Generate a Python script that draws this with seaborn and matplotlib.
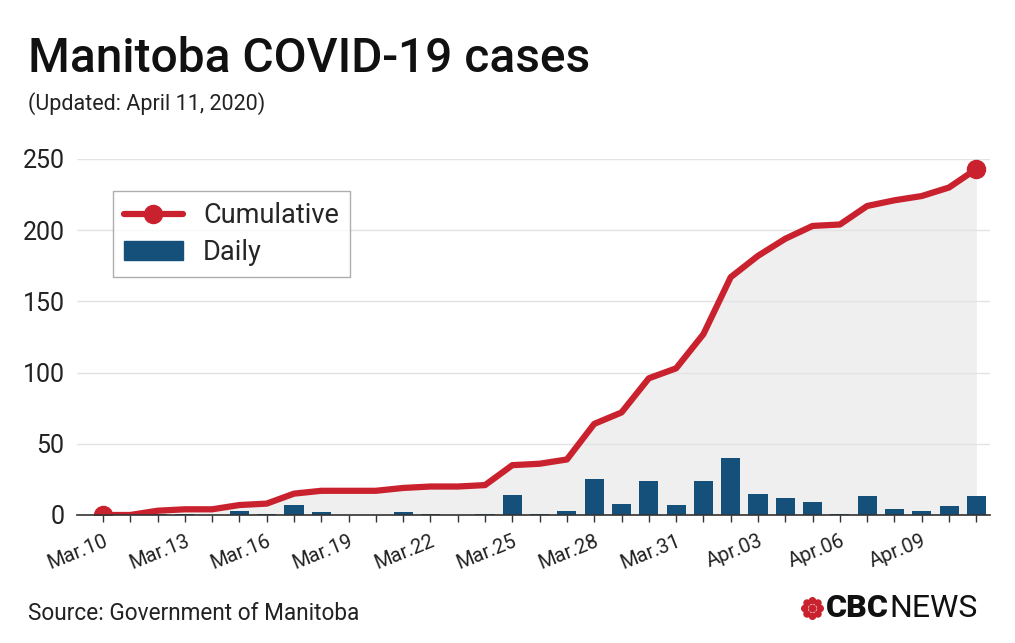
import matplotlib
matplotlib.use("Agg")
import numpy as np
import pandas as pd
import matplotlib.pyplot as plt
import matplotlib.transforms as mtransforms
import seaborn as sns
from matplotlib.lines import Line2D
from matplotlib.patches import Patch, Circle

# data
DATES = ["Mar.10", "Mar.11", "Mar.12", "Mar.13", "Mar.14", "Mar.15", "Mar.16", "Mar.17",
         "Mar.18", "Mar.19", "Mar.20", "Mar.21", "Mar.22", "Mar.23", "Mar.24", "Mar.25",
         "Mar.26", "Mar.27", "Mar.28", "Mar.29", "Mar.30", "Mar.31", "Apr.01", "Apr.02",
         "Apr.03", "Apr.04", "Apr.05", "Apr.06", "Apr.07", "Apr.08", "Apr.09", "Apr.10",
         "Apr.11"]
CUMULATIVE = [0, 0, 3, 4, 4, 7, 8, 15, 17, 17, 17, 19, 20, 20, 21, 35, 36, 39, 64, 72,
              96, 103, 127, 167, 182, 194, 203, 204, 217, 221, 224, 230, 243]
DAILY = [0, 0, 1, 1, 0, 3, 1, 7, 2, 0, 0, 2, 1, 0, 1, 14, 1, 3, 25, 8,
         24, 7, 24, 40, 15, 12, 9, 1, 13, 4, 3, 6, 13]
LABELLED = ["Mar.10", "Mar.13", "Mar.16", "Mar.19", "Mar.22", "Mar.25", "Mar.28",
            "Mar.31", "Apr.03", "Apr.06", "Apr.09"]

RED = "#c9222e"
BLUE = "#14507a"
FILL = "#efefef"
GRID = "#e3e3e3"


def run():
    sns.set_theme(style="white")
    plt.rcParams["font.family"] = ["Roboto", "DejaVu Sans"]

    df = pd.DataFrame({"Date": DATES, "Cumulative": CUMULATIVE, "Daily": DAILY})
    df["Day"] = np.arange(len(df))

    fig = plt.figure(figsize=(10.15, 6.43), dpi=100)
    ax = fig.add_axes([77 / 1015, 1 - 515 / 643, (990 - 77) / 1015, (515 - 159) / 643])

    ax.fill_between(df["Day"], 0, df["Cumulative"], color=FILL, zorder=0, lw=0)
    sns.barplot(data=df, x="Day", y="Daily", color=BLUE, width=0.7, saturation=1,
                linewidth=0, ax=ax, zorder=2)
    sns.lineplot(data=df, x="Day", y="Cumulative", color=RED, lw=4.5, ax=ax, zorder=3)
    ends = df.iloc[[0, -1]]
    ax.plot(ends["Day"], ends["Cumulative"], "o", color=RED, ms=13, zorder=4)

    ax.set_xlim(-0.95, 32.5)
    ax.set_ylim(0, 250)
    ax.set_yticks([0, 50, 100, 150, 200, 250])
    ax.yaxis.grid(True, color=GRID, lw=1)
    ax.set_axisbelow(True)
    ax.tick_params(axis="y", length=0, pad=9, labelsize=18, colors="#222222")

    ax.set_xticks(df["Day"])
    ax.set_xticklabels([d if d in LABELLED else "" for d in DATES], rotation=22,
                       ha="right", rotation_mode="anchor")
    shift = mtransforms.ScaledTranslation(7 / 100, 0, fig.dpi_scale_trans)
    for lab in ax.get_xticklabels():
        lab.set_transform(lab.get_transform() + shift)
    ax.tick_params(axis="x", length=5, width=1, color="#333333", pad=7,
                   labelsize=14.5, colors="#222222", bottom=True)
    ax.set_xlabel("")
    ax.set_ylabel("")
    for side in ["top", "right", "left"]:
        ax.spines[side].set_visible(False)
    ax.spines["bottom"].set_color("#333333")
    ax.spines["bottom"].set_linewidth(1.2)
    ax.spines["bottom"].set_zorder(5)

    handles = [Line2D([0], [0], color=RED, lw=4.5, marker="o", ms=13),
               Patch(color=BLUE)]
    leg = fig.legend(handles, ["Cumulative", "Daily"], loc="upper left",
                     bbox_to_anchor=(113 / 1015, 1 - 191 / 643), fontsize=19.5,
                     frameon=True, fancybox=False, edgecolor="#999999",
                     handlelength=2.15, handletextpad=0.75, borderpad=0.42,
                     labelspacing=0.35, borderaxespad=0)
    leg.get_frame().set_linewidth(1)

    fig.text(28 / 1015, 1 - 72 / 643, "Manitoba COVID-19 cases", fontsize=34.5,
             fontweight="medium", color="#111111", va="baseline")
    fig.text(28 / 1015, 1 - 110 / 643, "(Updated: April 11, 2020)", fontsize=15.5,
             color="#222222", va="baseline")
    fig.text(28 / 1015, 1 - 620 / 643, "Source: Government of Manitoba", fontsize=16.3,
             color="#222222", va="baseline")

    # CBC News logo
    lax = fig.add_axes([800 / 1015, 1 - 621 / 643, 25 / 1015, 25 / 643])
    lax.set_xlim(-1.1, 1.1)
    lax.set_ylim(-1.1, 1.1)
    lax.set_aspect("equal")
    lax.axis("off")
    lax.add_patch(Circle((0, 0), 0.28, color=RED))
    for a in np.linspace(0, 2 * np.pi, 8, endpoint=False):
        lax.add_patch(Circle((0.68 * np.cos(a), 0.68 * np.sin(a)), 0.27, color=RED))
    cbc = fig.text(826 / 1015, 1 - 617 / 643, "CBC", fontsize=23, fontweight="black",
                   color="#111111", va="baseline")
    fig.canvas.draw()
    bb = cbc.get_window_extent()
    fig.text(bb.x1 / 1015, 1 - 617 / 643, "NEWS", fontsize=23, color="#111111",
             va="baseline")

    fig.savefig("out.png", dpi=100)
    plt.close(fig)


if __name__ == "__main__":
    run()
